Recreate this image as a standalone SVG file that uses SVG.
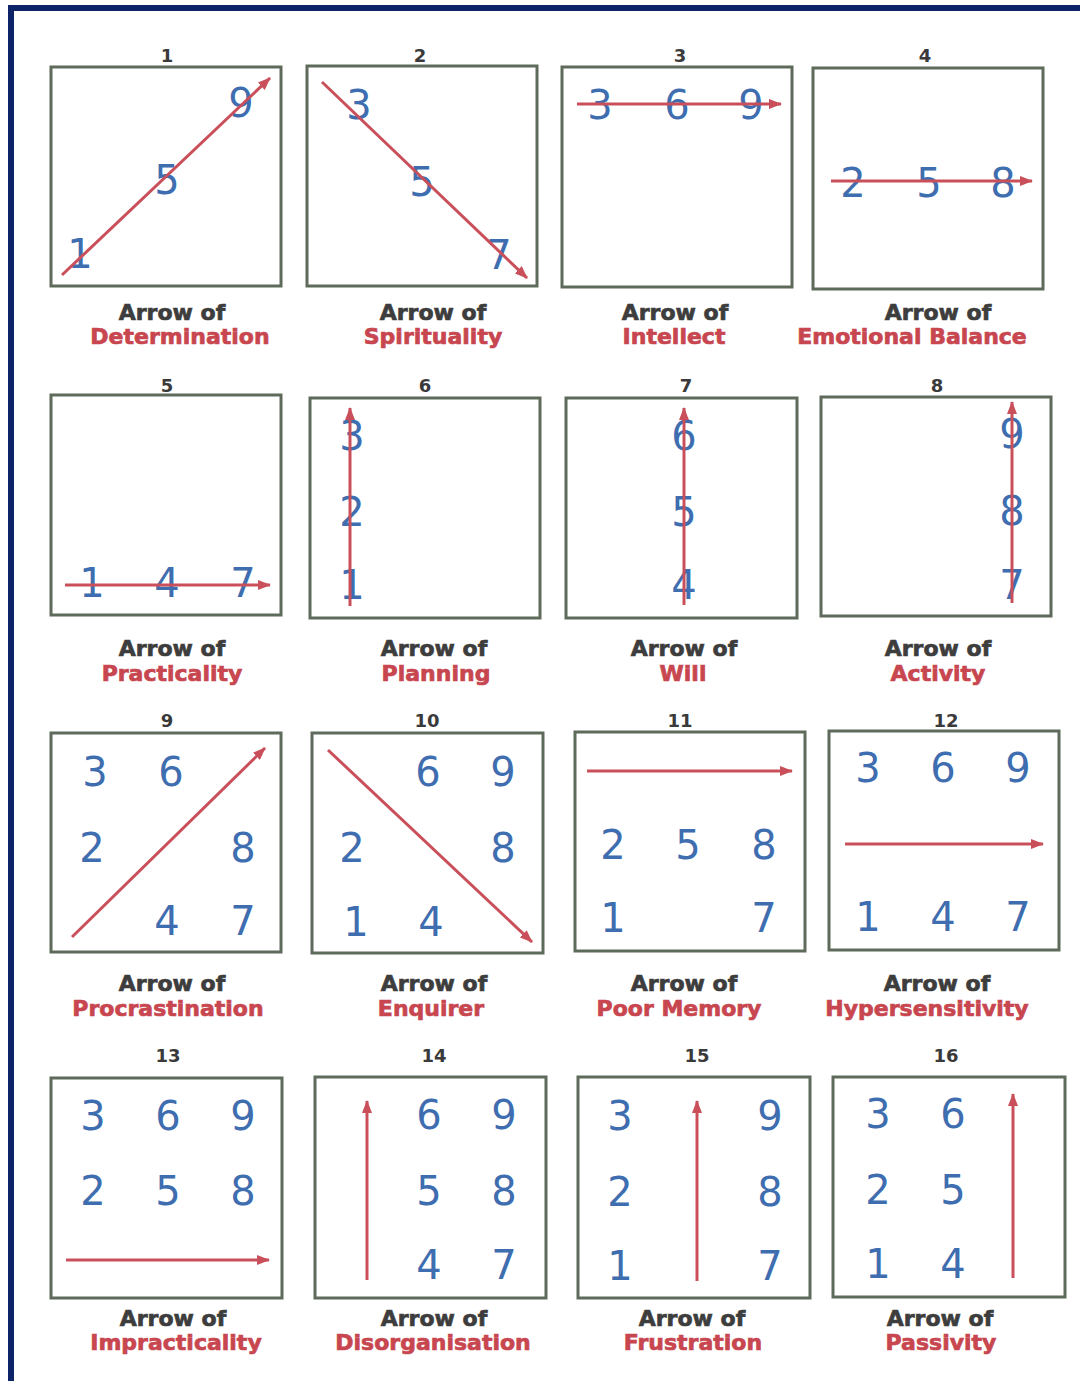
<svg xmlns="http://www.w3.org/2000/svg" width="1080" height="1381" viewBox="0 0 1080 1381">
<style>
.bx{fill:#fff;stroke:#5f6b5a;stroke-width:3}
.d{font-family:"DejaVu Sans",Verdana,sans-serif;font-size:40px;fill:#3e6db0;text-anchor:middle;dominant-baseline:central}
.t{font-family:"DejaVu Sans",Verdana,sans-serif;font-size:18px;font-weight:bold;fill:#3a3a3a;text-anchor:middle;dominant-baseline:central}
.a{font-family:"DejaVu Sans",Verdana,sans-serif;font-size:22px;font-weight:bold;fill:#3d3d3d;stroke:#3d3d3d;stroke-width:0.7;text-anchor:middle;dominant-baseline:central}
.r{font-family:"DejaVu Sans",Verdana,sans-serif;font-size:22px;font-weight:bold;fill:#c8464f;stroke:#c8464f;stroke-width:0.7;text-anchor:middle;dominant-baseline:central}
.ar{stroke:#c9505b;stroke-width:3;fill:none;marker-end:url(#ah)}
</style>
<defs>
<marker id="ah" markerUnits="userSpaceOnUse" markerWidth="14" markerHeight="10" refX="12" refY="5" orient="auto">
<path d="M0,0 L13,5 L0,10 Z" fill="#c9505b"/>
</marker>
</defs>
<rect width="1080" height="1381" fill="#fff"/>
<rect x="8" y="5" width="1072" height="6" fill="#0d2468"/>
<rect x="8" y="5" width="6" height="1376" fill="#0d2468"/>

<g id="n1">
<text class="t" x="167" y="55">1</text>
<rect class="bx" x="51" y="67" width="230" height="219"/>
<text class="d" x="80" y="254">1</text><text class="d" x="167" y="180">5</text><text class="d" x="241" y="103">9</text>
<line class="ar" x1="62" y1="275" x2="270" y2="78"/>
<text class="a" x="172" y="312">Arrow of</text><text class="r" x="180" y="336">Determination</text>
</g>
<g id="n2">
<text class="t" x="420" y="55">2</text>
<rect class="bx" x="307" y="66" width="230" height="220"/>
<text class="d" x="359" y="105">3</text><text class="d" x="422" y="182">5</text><text class="d" x="499" y="255">7</text>
<line class="ar" x1="322" y1="82" x2="527" y2="278"/>
<text class="a" x="433" y="312">Arrow of</text><text class="r" x="433" y="336">Spirituality</text>
</g>
<g id="n3">
<text class="t" x="680" y="55">3</text>
<rect class="bx" x="562" y="67" width="230" height="220"/>
<text class="d" x="600" y="105">3</text><text class="d" x="677" y="105">6</text><text class="d" x="751" y="105">9</text>
<line class="ar" x1="577" y1="104" x2="781" y2="104"/>
<text class="a" x="675" y="312">Arrow of</text><text class="r" x="674" y="336">Intellect</text>
</g>
<g id="n4">
<text class="t" x="925" y="55">4</text>
<rect class="bx" x="813" y="68" width="230" height="221"/>
<text class="d" x="853" y="183">2</text><text class="d" x="929" y="183">5</text><text class="d" x="1003" y="183">8</text>
<line class="ar" x1="831" y1="181" x2="1032" y2="181"/>
<text class="a" x="938" y="312">Arrow of</text><text class="r" x="912" y="336">Emotional Balance</text>
</g>

<g id="n5">
<text class="t" x="167" y="385">5</text>
<rect class="bx" x="51" y="395" width="230" height="220"/>
<text class="d" x="92" y="583">1</text><text class="d" x="167" y="583">4</text><text class="d" x="243" y="583">7</text>
<line class="ar" x1="65" y1="585" x2="270" y2="585"/>
<text class="a" x="172" y="648">Arrow of</text><text class="r" x="172" y="673">Practicality</text>
</g>
<g id="n6">
<text class="t" x="425" y="385">6</text>
<rect class="bx" x="310" y="398" width="230" height="220"/>
<text class="d" x="352" y="436">3</text><text class="d" x="352" y="512">2</text><text class="d" x="352" y="585">1</text>
<line class="ar" x1="350" y1="606" x2="350" y2="408"/>
<text class="a" x="434" y="648">Arrow of</text><text class="r" x="436" y="673">Planning</text>
</g>
<g id="n7">
<text class="t" x="686" y="385">7</text>
<rect class="bx" x="566" y="398" width="231" height="220"/>
<text class="d" x="684" y="436">6</text><text class="d" x="684" y="512">5</text><text class="d" x="684" y="585">4</text>
<line class="ar" x1="684" y1="605" x2="684" y2="408"/>
<text class="a" x="684" y="648">Arrow of</text><text class="r" x="683" y="673">Will</text>
</g>
<g id="n8">
<text class="t" x="937" y="385">8</text>
<rect class="bx" x="821" y="397" width="230" height="219"/>
<text class="d" x="1012" y="434">9</text><text class="d" x="1012" y="511">8</text><text class="d" x="1012" y="585">7</text>
<line class="ar" x1="1012" y1="603" x2="1012" y2="402"/>
<text class="a" x="938" y="648">Arrow of</text><text class="r" x="938" y="673">Activity</text>
</g>

<g id="n9">
<text class="t" x="167" y="720">9</text>
<rect class="bx" x="51" y="733" width="230" height="219"/>
<text class="d" x="95" y="772">3</text><text class="d" x="171" y="772">6</text>
<text class="d" x="92" y="848">2</text><text class="d" x="243" y="848">8</text>
<text class="d" x="167" y="921">4</text><text class="d" x="243" y="921">7</text>
<line class="ar" x1="72" y1="937" x2="265" y2="748"/>
<text class="a" x="172" y="983">Arrow of</text><text class="r" x="168" y="1008">Procrastination</text>
</g>
<g id="n10">
<text class="t" x="427" y="720">10</text>
<rect class="bx" x="312" y="733" width="231" height="220"/>
<text class="d" x="428" y="772">6</text><text class="d" x="503" y="772">9</text>
<text class="d" x="352" y="848">2</text><text class="d" x="503" y="848">8</text>
<text class="d" x="356" y="922">1</text><text class="d" x="431" y="922">4</text>
<line class="ar" x1="328" y1="750" x2="532" y2="942"/>
<text class="a" x="434" y="983">Arrow of</text><text class="r" x="431" y="1008">Enquirer</text>
</g>
<g id="n11">
<text class="t" x="680" y="720">11</text>
<rect class="bx" x="575" y="732" width="230" height="219"/>
<line class="ar" x1="587" y1="771" x2="792" y2="771"/>
<text class="d" x="613" y="845">2</text><text class="d" x="688" y="845">5</text><text class="d" x="764" y="845">8</text>
<text class="d" x="613" y="918">1</text><text class="d" x="764" y="918">7</text>
<text class="a" x="684" y="983">Arrow of</text><text class="r" x="679" y="1008">Poor Memory</text>
</g>
<g id="n12">
<text class="t" x="946" y="720">12</text>
<rect class="bx" x="829" y="731" width="230" height="219"/>
<text class="d" x="868" y="768">3</text><text class="d" x="943" y="768">6</text><text class="d" x="1018" y="768">9</text>
<line class="ar" x1="845" y1="844" x2="1043" y2="844"/>
<text class="d" x="868" y="917">1</text><text class="d" x="943" y="917">4</text><text class="d" x="1018" y="917">7</text>
<text class="a" x="937" y="983">Arrow of</text><text class="r" x="927" y="1008">Hypersensitivity</text>
</g>

<g id="n13">
<text class="t" x="168" y="1055">13</text>
<rect class="bx" x="51" y="1078" width="231" height="220"/>
<text class="d" x="93" y="1116">3</text><text class="d" x="168" y="1116">6</text><text class="d" x="243" y="1116">9</text>
<text class="d" x="93" y="1191">2</text><text class="d" x="168" y="1191">5</text><text class="d" x="243" y="1191">8</text>
<line class="ar" x1="66" y1="1260" x2="269" y2="1260"/>
<text class="a" x="173" y="1318">Arrow of</text><text class="r" x="176" y="1342">Impracticality</text>
</g>
<g id="n14">
<text class="t" x="434" y="1055">14</text>
<rect class="bx" x="315" y="1077" width="231" height="221"/>
<text class="d" x="429" y="1115">6</text><text class="d" x="504" y="1115">9</text>
<text class="d" x="429" y="1191">5</text><text class="d" x="504" y="1191">8</text>
<text class="d" x="429" y="1265">4</text><text class="d" x="504" y="1265">7</text>
<line class="ar" x1="367" y1="1280" x2="367" y2="1101"/>
<text class="a" x="434" y="1318">Arrow of</text><text class="r" x="433" y="1342">Disorganisation</text>
</g>
<g id="n15">
<text class="t" x="697" y="1055">15</text>
<rect class="bx" x="578" y="1077" width="232" height="221"/>
<text class="d" x="620" y="1116">3</text><text class="d" x="770" y="1116">9</text>
<text class="d" x="620" y="1192">2</text><text class="d" x="770" y="1192">8</text>
<text class="d" x="620" y="1266">1</text><text class="d" x="770" y="1266">7</text>
<line class="ar" x1="697" y1="1281" x2="697" y2="1101"/>
<text class="a" x="692" y="1318">Arrow of</text><text class="r" x="693" y="1342">Frustration</text>
</g>
<g id="n16">
<text class="t" x="946" y="1055">16</text>
<rect class="bx" x="833" y="1077" width="232" height="220"/>
<text class="d" x="878" y="1114">3</text><text class="d" x="953" y="1114">6</text>
<text class="d" x="878" y="1190">2</text><text class="d" x="953" y="1190">5</text>
<text class="d" x="878" y="1264">1</text><text class="d" x="953" y="1264">4</text>
<line class="ar" x1="1013" y1="1278" x2="1013" y2="1094"/>
<text class="a" x="940" y="1318">Arrow of</text><text class="r" x="941" y="1342">Passivity</text>
</g>
</svg>
